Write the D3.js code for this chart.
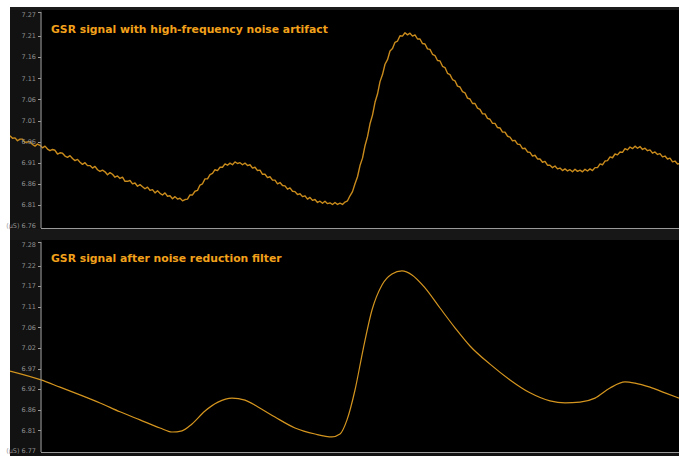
<!DOCTYPE html>
<html>
<head>
<meta charset="utf-8">
<script src="https://cdn.jsdelivr.net/npm/d3@7"></script>
<style>
  html, body { margin: 0; padding: 0; background: #ffffff; }
  svg { display: block; }
  .tick-label { font-family: "DejaVu Sans", Verdana, sans-serif; font-size: 6.5px; fill: #909090; }
  .title { font-family: "DejaVu Sans", Verdana, sans-serif; font-size: 10.8px; font-weight: bold; fill: #f2a11b; }
</style>
</head>
<body>
<div id="chart"></div>
<script>
// raw signal, sampled every 0.25 s (values in µS)
const rawStep = 0.25;
const rawValues = [
  6.978, 6.972, 6.973, 6.966, 6.970, 6.970, 6.962, 6.963, 6.964, 6.957,
  6.953, 6.958, 6.955, 6.949, 6.953, 6.946, 6.942, 6.945, 6.943, 6.934,
  6.937, 6.936, 6.929, 6.926, 6.930, 6.923, 6.918, 6.921, 6.914, 6.909,
  6.913, 6.906, 6.906, 6.900, 6.904, 6.896, 6.892, 6.895, 6.891, 6.884,
  6.889, 6.885, 6.878, 6.881, 6.875, 6.878, 6.868, 6.868, 6.870, 6.862,
  6.864, 6.856, 6.860, 6.855, 6.850, 6.854, 6.846, 6.848, 6.840, 6.845,
  6.839, 6.835, 6.840, 6.832, 6.833, 6.826, 6.831, 6.825, 6.827, 6.821,
  6.824, 6.825, 6.835, 6.835, 6.844, 6.846, 6.859, 6.862, 6.874, 6.874,
  6.884, 6.887, 6.896, 6.894, 6.902, 6.902, 6.910, 6.907, 6.912, 6.908,
  6.915, 6.911, 6.913, 6.908, 6.912, 6.906, 6.908, 6.900, 6.902, 6.894,
  6.895, 6.885, 6.885, 6.877, 6.879, 6.871, 6.871, 6.862, 6.865, 6.858,
  6.857, 6.849, 6.852, 6.844, 6.843, 6.836, 6.838, 6.831, 6.833, 6.825,
  6.829, 6.822, 6.824, 6.817, 6.820, 6.815, 6.820, 6.814, 6.816, 6.812,
  6.817, 6.812, 6.815, 6.812, 6.818, 6.821, 6.833, 6.843, 6.862, 6.879,
  6.906, 6.924, 6.954, 6.976, 7.007, 7.028, 7.059, 7.079, 7.109, 7.126,
  7.151, 7.162, 7.183, 7.189, 7.204, 7.207, 7.220, 7.219, 7.227, 7.222,
  7.226, 7.219, 7.222, 7.212, 7.212, 7.201, 7.200, 7.188, 7.187, 7.175,
  7.172, 7.160, 7.159, 7.146, 7.143, 7.129, 7.126, 7.114, 7.111, 7.098,
  7.096, 7.085, 7.082, 7.069, 7.067, 7.056, 7.056, 7.045, 7.042, 7.031,
  7.031, 7.020, 7.018, 7.008, 7.008, 6.998, 6.997, 6.987, 6.987, 6.977,
  6.975, 6.966, 6.967, 6.958, 6.957, 6.947, 6.948, 6.939, 6.938, 6.929,
  6.931, 6.922, 6.922, 6.914, 6.916, 6.907, 6.907, 6.901, 6.905, 6.898,
  6.900, 6.894, 6.898, 6.893, 6.896, 6.891, 6.897, 6.892, 6.895, 6.891,
  6.897, 6.893, 6.898, 6.894, 6.901, 6.901, 6.910, 6.908, 6.917, 6.918,
  6.927, 6.925, 6.934, 6.932, 6.939, 6.938, 6.947, 6.944, 6.951, 6.947,
  6.953, 6.948, 6.952, 6.945, 6.948, 6.942, 6.944, 6.936, 6.939, 6.933,
  6.935, 6.927, 6.929, 6.922, 6.924, 6.915, 6.917, 6.910, 6.911
];

// filtered signal: time (s) and value (µS)
const filteredTimes = [
  0, 3.1, 5, 7, 9, 11, 13, 15, 16.2, 17.2, 18.2, 19.5, 20.8, 22.2, 23.5, 24.8,
  26.5, 28.5, 30.5, 32.2, 33, 33.7, 34.5, 35.3, 36.2, 37.2, 38.2, 39.2, 40.2,
  41.5, 43, 44.5, 46, 48, 50, 52, 54, 55.5, 57, 58.5, 60, 61.5, 62.5, 64, 65.5, 66.9
];
const filteredValues = [
  6.968, 6.946, 6.928, 6.909, 6.889, 6.867, 6.847, 6.827, 6.817, 6.820, 6.837, 6.869,
  6.891, 6.901, 6.896, 6.879, 6.854, 6.827, 6.812, 6.805, 6.812, 6.847, 6.921, 7.020,
  7.119, 7.181, 7.208, 7.216, 7.206, 7.174, 7.124, 7.075, 7.030, 6.985, 6.946, 6.914,
  6.894, 6.889, 6.891, 6.901, 6.926, 6.941, 6.938, 6.928, 6.914, 6.901
];

const topTicks = [7.27, 7.21, 7.16, 7.11, 7.06, 7.01, 6.96, 6.91, 6.86, 6.81, 6.76];
const bottomTicks = [7.28, 7.22, 7.17, 7.11, 7.06, 7.02, 6.97, 6.92, 6.86, 6.81, 6.77];

const titles = ["GSR signal with high-frequency noise artifact", "GSR signal after noise reduction filter"];

const W = 679, H = 457;
const left = 10, axisX = 41;

const svg = d3.select("#chart").append("svg")
  .attr("width", W)
  .attr("height", H);

// panel backgrounds
svg.append("rect").attr("x", left).attr("y", 7).attr("width", W - left).attr("height", 449).attr("fill", "#121212");
svg.append("rect").attr("x", left).attr("y", 7).attr("width", W - left).attr("height", 3).attr("fill", "#1b1b1b");
svg.append("rect").attr("x", left).attr("y", 229).attr("width", W - left).attr("height", 11).attr("fill", "#171717");

const x = d3.scaleLinear().domain([0, 66.9]).range([left, W]);

const panels = [
  {
    top: 10, bottom: 228, y0: 15, y1: 226, ticks: topTicks, title: titles[0], titleY: 33,
    data: rawValues.map((v, i) => ({ t: i * rawStep, v: v })),
    curve: d3.curveLinear, color: "#c98b1c", width: 1.4
  },
  {
    top: 240, bottom: 452, y0: 245, y1: 451, ticks: bottomTicks, title: titles[1], titleY: 262,
    data: filteredValues.map((v, i) => ({ t: filteredTimes[i], v: v })),
    curve: d3.curveMonotoneX, color: "#d4951f", width: 1.2
  }
];

panels.forEach((p, k) => {
  // black plot area
  svg.append("rect")
    .attr("x", axisX + 1).attr("y", p.top)
    .attr("width", W - axisX - 1).attr("height", p.bottom - p.top)
    .attr("fill", "#000");

  // tick labels are evenly spaced, as printed
  const y = d3.scaleLinear()
    .domain([p.ticks[p.ticks.length - 1], p.ticks[0]])
    .range([p.y1, p.y0]);
  const yPos = d3.scalePoint().domain(p.ticks).range([p.y0, p.y1]);

  const clipId = "clip" + k;
  svg.append("clipPath").attr("id", clipId)
    .append("rect").attr("x", left).attr("y", p.top).attr("width", W - left).attr("height", p.bottom - p.top);

  const line = d3.line()
    .x(d => x(d.t))
    .y(d => y(d.v))
    .curve(p.curve);

  svg.append("path")
    .datum(p.data)
    .attr("clip-path", "url(#" + clipId + ")")
    .attr("fill", "none")
    .attr("stroke", p.color)
    .attr("stroke-width", p.width)
    .attr("stroke-linejoin", "round")
    .attr("d", line);

  // axis
  const g = svg.append("g");
  g.append("line")
    .attr("x1", axisX).attr("x2", axisX)
    .attr("y1", p.top + 2).attr("y2", p.bottom)
    .attr("stroke", "#9a9a9a").attr("stroke-width", 1);
  g.append("line")
    .attr("x1", axisX - 3).attr("x2", axisX)
    .attr("y1", p.top + 2.5).attr("y2", p.top + 2.5)
    .attr("stroke", "#9a9a9a");
  g.append("line")
    .attr("x1", axisX).attr("x2", W)
    .attr("y1", p.bottom + 0.5).attr("y2", p.bottom + 0.5)
    .attr("stroke", "#9a9a9a");

  p.ticks.forEach((t, i) => {
    const ty = yPos(t);
    if (i > 0 && i < p.ticks.length - 1) {
      g.append("line")
        .attr("x1", axisX - 3).attr("x2", axisX)
        .attr("y1", Math.round(ty) + 0.5).attr("y2", Math.round(ty) + 0.5)
        .attr("stroke", "#9a9a9a");
    }
    g.append("text")
      .attr("class", "tick-label")
      .attr("x", 36)
      .attr("y", ty)
      .attr("dy", "0.35em")
      .attr("text-anchor", "end")
      .text(i === p.ticks.length - 1 ? "(µS) " + t.toFixed(2) : t.toFixed(2));
  });

  svg.append("text")
    .attr("class", "title")
    .attr("x", 51)
    .attr("y", p.titleY)
    .text(p.title);
});
</script>
</body>
</html>
